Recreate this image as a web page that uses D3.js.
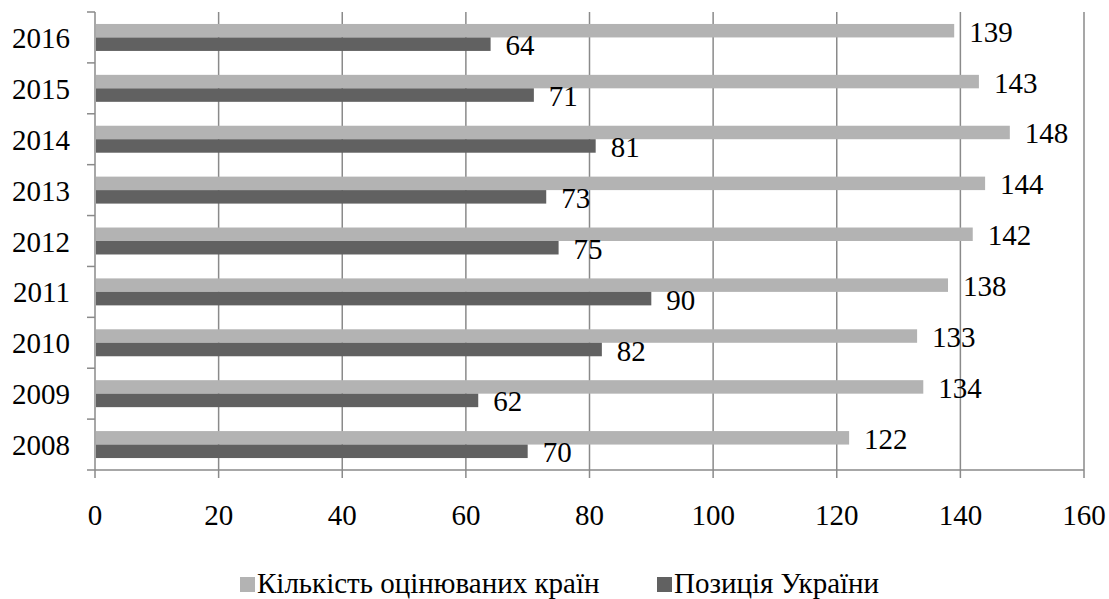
<!DOCTYPE html>
<html><head><meta charset="utf-8">
<script src="https://cdn.jsdelivr.net/npm/d3@7/dist/d3.min.js"></script>
<style>body{margin:0;background:#fff}svg{display:block}</style>
</head><body>
<svg id="c" width="1109" height="599"></svg>
<script>
const years = ["2016","2015","2014","2013","2012","2011","2010","2009","2008"];
const countries = [139,143,148,144,142,138,133,134,122];
const ukraine = [64,71,81,73,75,90,82,62,70];
const xTicks = [0,20,40,60,80,100,120,140,160];
const seriesNames = ["Кількість оцінюваних країн","Позиція України"];
const colors = ["#b3b3b3","#616161"];

(function(){
const FONT = "Liberation Serif";
const FS = 29;
const svg = d3.select("#c");
const pL = 95, pR = 1084, pT = 12, pB = 470;
const x = d3.scaleLinear().domain([0,160]).range([pL,pR]);
const y = d3.scaleBand().domain(years).range([pT,pB]).paddingInner(0.47).paddingOuter(0.235);
const grid = "#8a8a8a";

svg.append("g").selectAll("line").data(xTicks).join("line")
  .attr("x1",d=>x(d)).attr("x2",d=>x(d)).attr("y1",pT).attr("y2",pB+8)
  .attr("stroke",grid).attr("stroke-width",1.5);
svg.append("line").attr("x1",pL).attr("x2",pR).attr("y1",pB).attr("y2",pB)
  .attr("stroke",grid).attr("stroke-width",1.5);
const bandStep = (pB-pT)/years.length;
svg.append("g").selectAll("line").data(d3.range(years.length+1)).join("line")
  .attr("x1",pL-8).attr("x2",pL).attr("y1",i=>pT+i*bandStep).attr("y2",i=>pT+i*bandStep)
  .attr("stroke",grid).attr("stroke-width",1.5);

const sub = d3.scaleBand().domain([0,1]).range([0,y.bandwidth()]);
const series = [countries, ukraine];
series.forEach((vals,si)=>{
  const g = svg.append("g");
  g.selectAll("rect").data(vals).join("rect")
    .attr("x",x(0)+1).attr("y",(d,i)=>y(years[i])+sub(si))
    .attr("width",d=>x(d)-x(0)-1).attr("height",sub.bandwidth())
    .attr("fill",colors[si]);
  g.selectAll("text").data(vals).join("text")
    .attr("x",d=>x(d)+15).attr("y",(d,i)=>y(years[i])+sub(si)+sub.bandwidth()/2+11)
    .attr("font-family",FONT).attr("font-size",FS).text(d=>d);
});

svg.append("g").selectAll("text").data(years).join("text")
  .attr("x",70).attr("y",d=>y(d)+y.bandwidth()/2+10.5).attr("text-anchor","end")
  .attr("font-family",FONT).attr("font-size",FS).text(d=>d);
svg.append("g").selectAll("text").data(xTicks).join("text")
  .attr("x",d=>x(d)).attr("y",525).attr("text-anchor","middle")
  .attr("font-family",FONT).attr("font-size",FS).text(d=>d);

const legX = [240,657];
seriesNames.forEach((n,i)=>{
  svg.append("rect").attr("x",legX[i]).attr("y",577).attr("width",15).attr("height",15).attr("fill",colors[i]);
  svg.append("text").attr("x",legX[i]+17).attr("y",593).attr("font-family",FONT).attr("font-size",FS).text(n);
});
})();
</script>
</body></html>
